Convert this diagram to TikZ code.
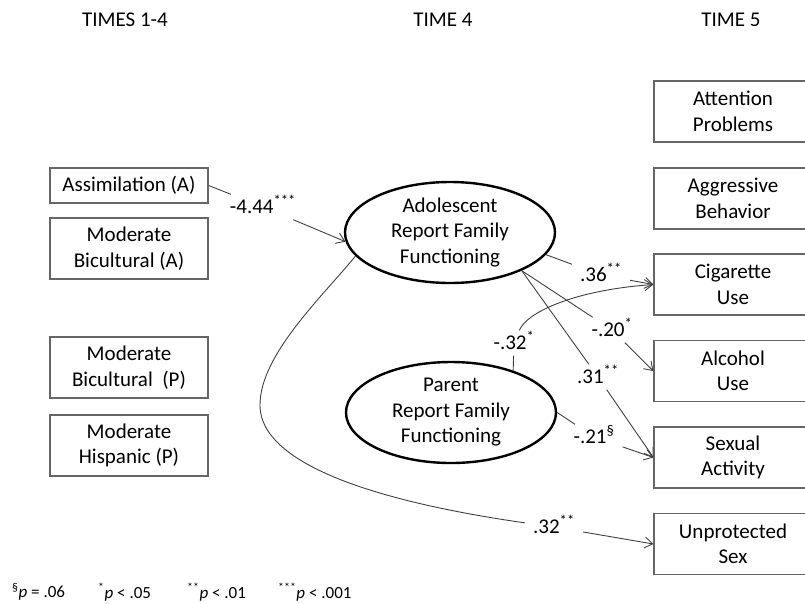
\documentclass[tikz,border=0pt]{standalone}
\usepackage{fontspec}
\setmainfont{Carlito}
\usetikzlibrary{arrows.meta,shapes.geometric}
\begin{document}
\begin{tikzpicture}[x=1pt,y=-1pt,
  font=\fontsize{21}{25.5}\selectfont,
  box/.style={draw=black!60, line width=1.2pt, minimum width=158pt, minimum height=61pt, align=center, inner sep=0pt},
  oval/.style={ellipse, draw=black, line width=2.4pt, minimum width=210pt, minimum height=101pt, align=center, inner sep=0pt},
  lab/.style={inner xsep=8pt, inner ysep=6pt, text height=13pt, text depth=0pt},
  conn/.style={draw=black!75, line width=0.9pt},
  arr/.style={conn, -{Straight Barb[length=8pt,width=11pt]}},
  leg/.style={font=\fontsize{17}{20}\selectfont, anchor=west, inner sep=0pt}]
\useasboundingbox (0,0) rectangle (805,603);
\clip (0,0) rectangle (805,603);

% headers
\node (h1) at (125,20) {TIMES 1-4};
\node (h2) at (443,20) {TIME 4};
\node (h3) at (731,20) {TIME 5};

% left boxes
\node[box, minimum height=35pt] (assim) at (129,185.5) {Assimilation (A)};
\node[box] (mba) at (129,248.5) {Moderate\\Bicultural (A)};
\node[box] (mbp) at (129,367.5) {Moderate\\Bicultural\ \ (P)};
\node[box] (mhp) at (129,445.5) {Moderate\\Hispanic (P)};

% ellipses
\node[oval] (adol) at (450,232.5) {Adolescent\\Report Family\\Functioning};
\node[oval] (par) at (451,412.5) {Parent\\Report Family\\Functioning};

% right boxes
\node[box] (att) at (733,111.5) {Attention\\Problems};
\node[box] (agg) at (733,198.5) {Aggressive\\Behavior};
\node[box] (cig) at (733,284.5) {Cigarette\\Use};
\node[box] (alc) at (733,371) {Alcohol\\Use};
\node[box] (sex) at (733,457.5) {Sexual\\Activity};
\node[box] (uns) at (733,544) {Unprotected\\Sex};

% labels
\node[lab] (l444) at (263,207) {-4.44\textsuperscript{***}};
\node[lab] (l36) at (601,275) {.36\textsuperscript{**}};
\node[lab] (l20) at (612,330) {-.20\textsuperscript{*}};
\node[lab] (l31) at (598,377) {.31\textsuperscript{**}};
\node[lab] (l21) at (594,437) {-.21\textsuperscript{§}};
\node[lab] (l32a) at (514,343) {-.32\textsuperscript{*}};
\node[lab] (l32b) at (554,527) {.32\textsuperscript{**}};

% connectors
\draw[conn] (assim.east) -- (l444);
\draw[arr] (l444) -- (adol.185);

\draw[conn] (adol.-13) -- (l36);
\draw[arr] (l36) -- (cig.west);

\draw[conn] (adol.-28) -- (l20);
\draw[arr] (l20) -- (alc.west);

\draw[conn] (adol.-28) -- (l31);
\draw[arr] (l31) -- (sex.west);

\draw[conn] (par.east) -- (l21);
\draw[arr] (l21) -- (sex.west);

\draw[conn] (par.34) -- (l32a);
\draw[arr] (l32a) .. controls (527,312) and (575,290) .. (cig.west);

\draw[conn] (adol.194) .. controls (322,297) and (260,355) .. (260,405)
  .. controls (260,470) and (400,505) .. (l32b);
\draw[arr] (l32b) -- (uns.west);

% legend
\node[leg] (g1) at (12,592) {\textsuperscript{§}\textit{p} = .06};
\node[leg] (g2) at (98,592) {\textsuperscript{*}\textit{p} < .05};
\node[leg] (g3) at (187,592) {\textsuperscript{**}\textit{p} < .01};
\node[leg] (g4) at (278,592) {\textsuperscript{***}\textit{p} < .001};
\end{tikzpicture}
\end{document}
